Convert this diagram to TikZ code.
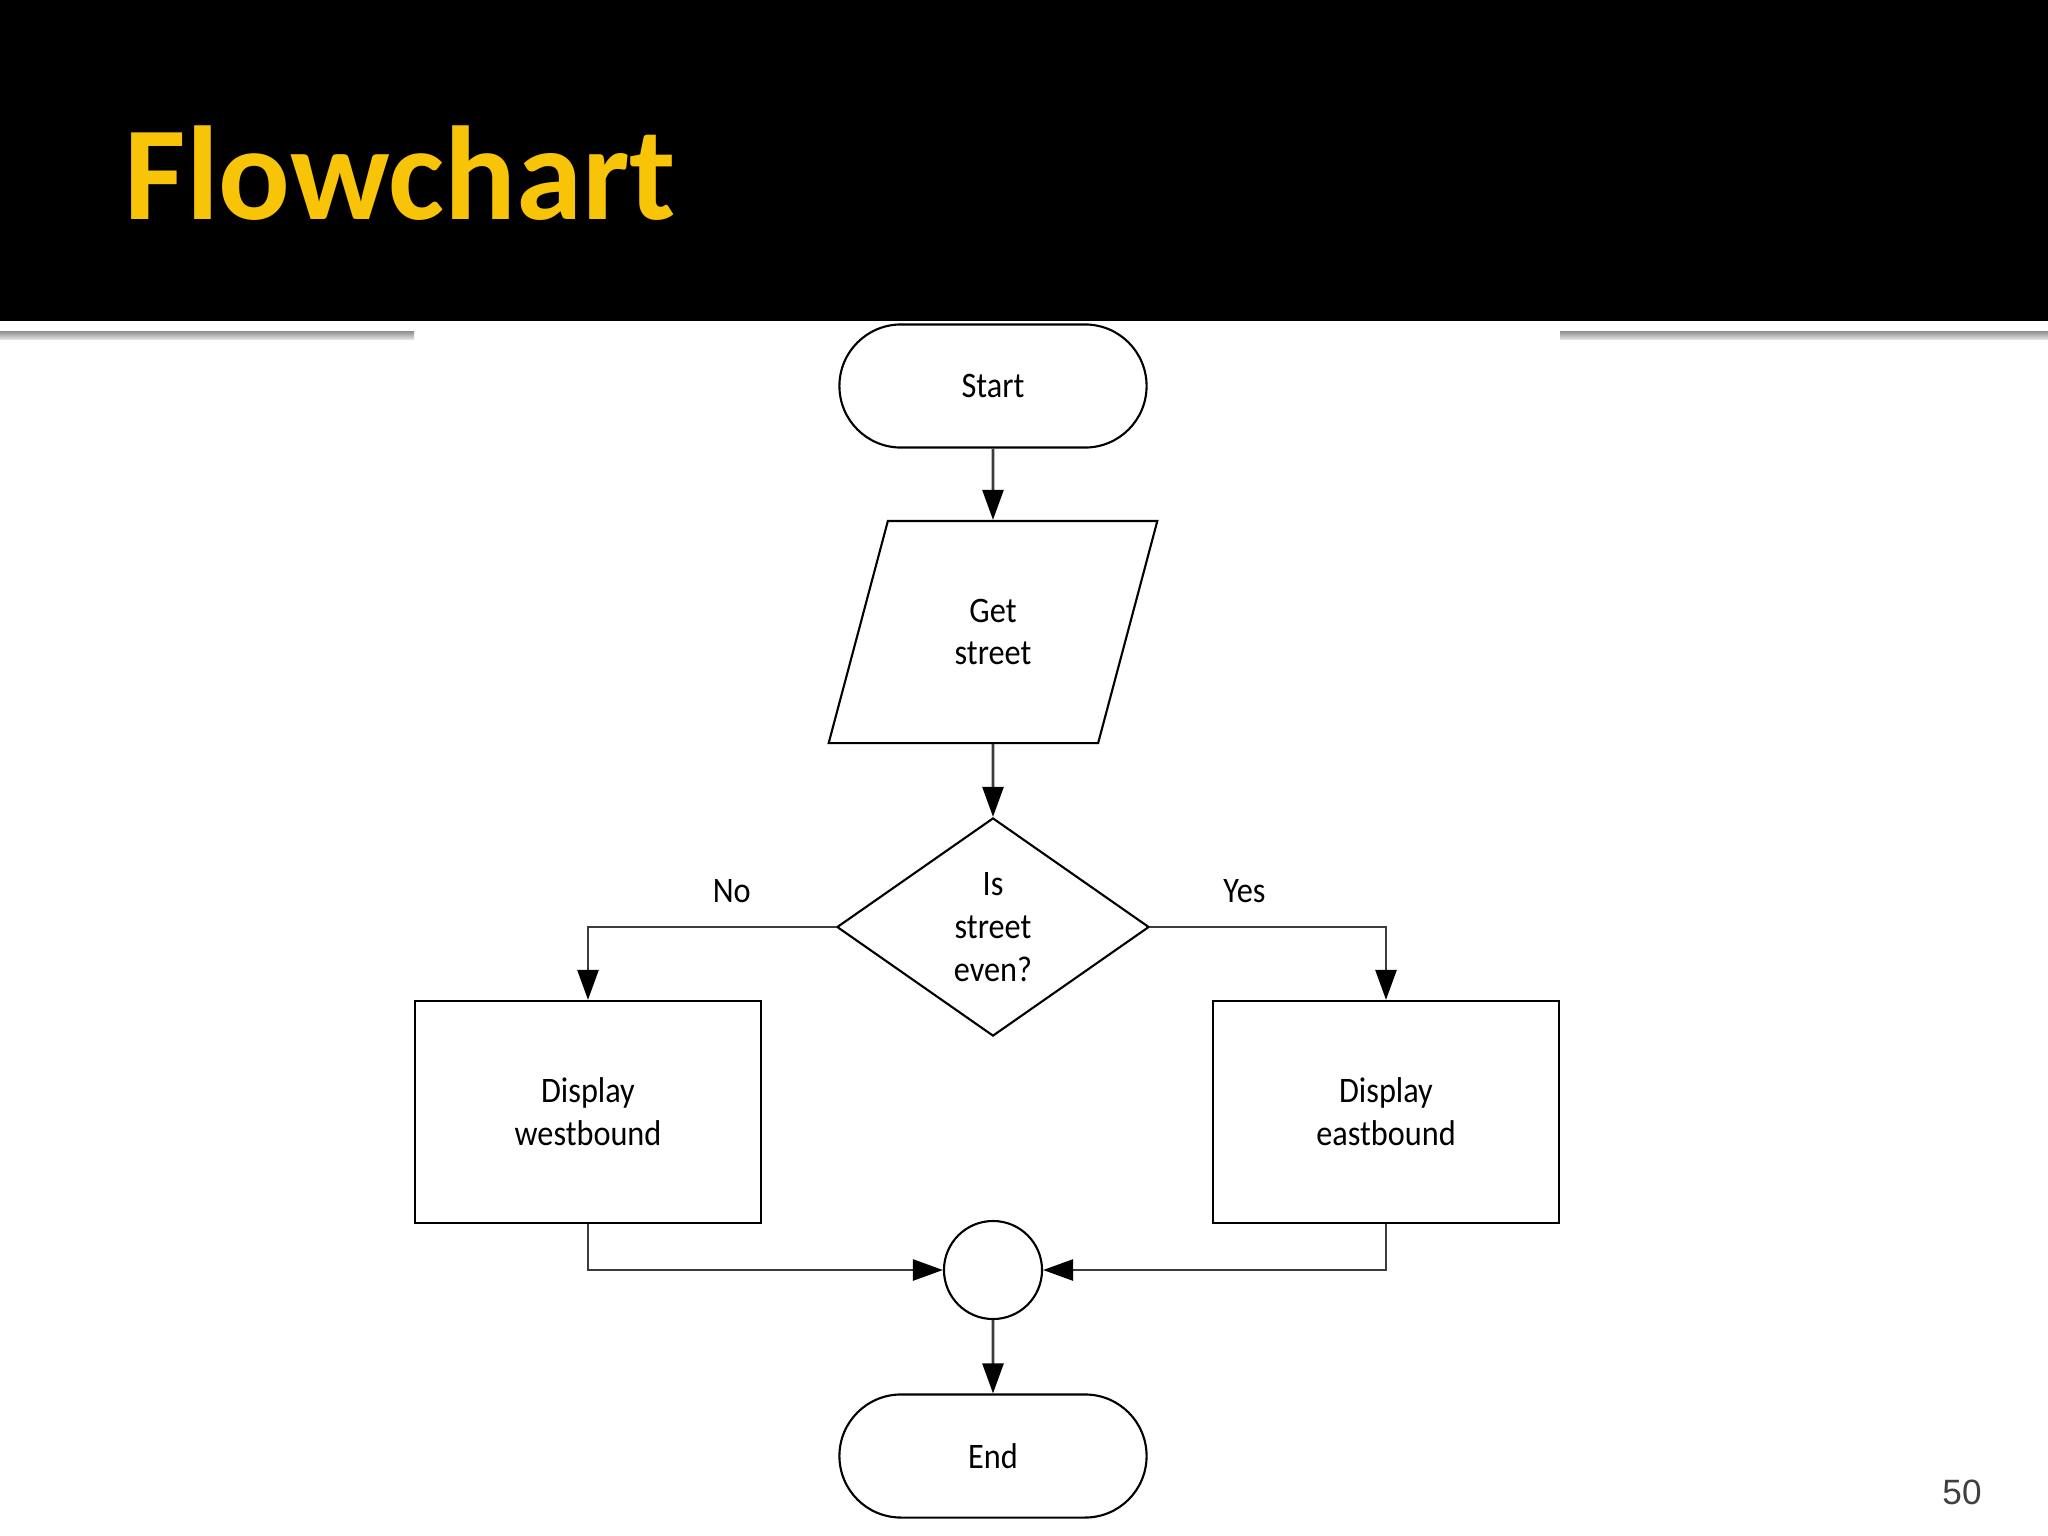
\documentclass[tikz,border=0pt]{standalone}
\usepackage{fontspec}
\newfontfamily\titlefont{Carlito}
\newfontfamily\chartfont[FakeStretch=0.9]{Carlito}
\newfontfamily\pagefont{Liberation Sans}
\usetikzlibrary{positioning,shapes.geometric,shapes.misc,arrows.meta}

\definecolor{titleyellow}{RGB}{248,196,8}
\definecolor{pagegray}{RGB}{64,64,64}
\definecolor{linegray}{RGB}{60,60,60}

\tikzset{
  every box/.style={draw=black, line width=0.6pt, fill=white, align=center,
    font=\chartfont\fontsize{10.2}{12.2}\selectfont, inner sep=0pt},
  terminal/.style={every box, rounded rectangle, minimum width=3.07cm, minimum height=1.23cm},
  io/.style={every box, trapezium, trapezium left angle=72, trapezium right angle=108,
    trapezium stretches=true, minimum width=3.29cm, minimum height=2.22cm},
  decision/.style={every box, diamond, minimum width=3.12cm, minimum height=2.18cm},
  process/.style={every box, rectangle, minimum width=3.45cm, minimum height=2.22cm},
  junction/.style={every box, circle, minimum size=0.98cm},
  flow/.style={->, draw=linegray, line width=0.75pt},
  branch/.style={font=\chartfont\fontsize{10.2}{12.2}\selectfont, inner sep=0pt}
}

\begin{document}
\begin{tikzpicture}[x=0.01cm, y=-0.01cm, >={Triangle[length=0.3cm,width=0.21cm,color=black]}]

\useasboundingbox (0,0) rectangle (2048,1536);

% title band
\fill [black] (0,0) rectangle (2048,321);
\shade [top color=gray!90, bottom color=gray!25] (0,331) rectangle (414,339);
\shade [top color=gray!90, bottom color=gray!25] (1560,331) rectangle (2048,339);
\node [font=\titlefont\bfseries\fontsize{38}{44}\selectfont, text=titleyellow,
  anchor=base west, inner sep=0pt] (title) at (124,219) {Flowchart};

% shapes
\node [terminal] (start) at (993,386) {Start};
\node [io] (getstreet) at (993,632) {Get\\street};
\node [decision] (iseven) at (993,927) {Is\\street\\even?};
\node [process] (west) at (588,1112) {Display\\westbound};
\node [process] (east) at (1386,1112) {Display\\eastbound};
\node [junction] (join) at (993,1270) {};
\node [terminal] (end) at (993,1456) {End};

% connectors
\draw [flow] (start) -- (getstreet);
\draw [flow] (getstreet) -- (iseven);
\draw [flow] (iseven.west) -| node [branch, pos=0.21, above=0.23cm] {No} (west.north);
\draw [flow] (iseven.east) -| node [branch, pos=0.2, above=0.23cm] {Yes} (east.north);
\draw [flow] (west.south) |- (join.west);
\draw [flow] (east.south) |- (join.east);
\draw [flow] (join) -- (end);

\node [font=\pagefont\fontsize{10}{12}\selectfont, text=pagegray] (pagenum) at (1962,1492) {50};

\end{tikzpicture}
\end{document}
